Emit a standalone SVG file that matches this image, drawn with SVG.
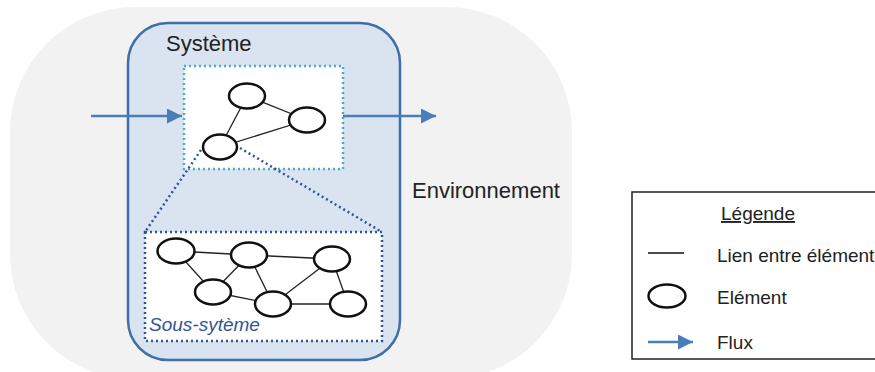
<svg xmlns="http://www.w3.org/2000/svg" width="875" height="372" viewBox="0 0 875 372">
<style>
text{font-family:"Liberation Sans",Arial,sans-serif;fill:#222}
.el{fill:#fff;stroke:#111;stroke-width:2.5}
.lk{stroke:#222;stroke-width:1.3}
.flux{stroke:#4a7ebb;stroke-width:2.5;fill:none}
.zoom{stroke:#2f5597;stroke-width:2.5;stroke-dasharray:2 3;fill:none}
.lg{font-size:19px}
</style>
<defs>
<marker id="ah" viewBox="0 0 10 10" refX="10" refY="5" markerWidth="6" markerHeight="6" markerUnits="strokeWidth" orient="auto">
<path d="M0,0 L10,5 L0,10 z" fill="#4a7ebb"/>
</marker>
</defs>
<g id="environnement">
<rect x="10" y="7" width="562" height="372" rx="125" ry="125" fill="#f2f2f2"/>
<text x="412" y="198" font-size="22">Environnement</text>
</g>
<g id="systeme">
<rect x="128" y="23" width="272" height="337" rx="40" ry="40" fill="#dae3f0" stroke="#3f6ea8" stroke-width="2.5"/>
<text x="166" y="51" font-size="22">Système</text>
</g>
<g id="sous-systeme-haut">
<rect x="184" y="66" width="159" height="103" fill="#fff" stroke="#4bacc6" stroke-width="2.5" stroke-dasharray="2 3"/>
</g>
<g id="connecteurs">
<path class="flux" d="M91,116 H182" marker-end="url(#ah)"/>
<path class="flux" d="M343,116 H436" marker-end="url(#ah)"/>
<path class="zoom" d="M201,150 L145,232"/>
<path class="zoom" d="M240,148 L382,232"/>
<line class="lk" x1="247" y1="96" x2="307" y2="120"/>
<line class="lk" x1="247" y1="96" x2="220" y2="147"/>
<line class="lk" x1="220" y1="147" x2="307" y2="120"/>
</g>
<g id="elements-haut">
<ellipse class="el" cx="247" cy="96" rx="18" ry="12.5"/>
<ellipse class="el" cx="307" cy="120" rx="18" ry="12.5"/>
<ellipse class="el" cx="220" cy="147" rx="17" ry="12.5"/>
</g>
<g id="sous-systeme">
<rect x="145" y="232" width="237" height="109" fill="#fff" stroke="#2f5597" stroke-width="2.5" stroke-dasharray="2 3"/>
<g class="liens">
<line class="lk" x1="176" y1="251" x2="249" y2="255"/>
<line class="lk" x1="176" y1="251" x2="213" y2="292"/>
<line class="lk" x1="249" y1="255" x2="213" y2="292"/>
<line class="lk" x1="249" y1="255" x2="273" y2="304"/>
<line class="lk" x1="249" y1="255" x2="332" y2="259"/>
<line class="lk" x1="213" y1="292" x2="273" y2="304"/>
<line class="lk" x1="332" y1="259" x2="273" y2="304"/>
<line class="lk" x1="332" y1="259" x2="348" y2="304"/>
<line class="lk" x1="273" y1="304" x2="348" y2="304"/>
</g>
<ellipse class="el" cx="176" cy="251" rx="18.5" ry="12.5"/>
<ellipse class="el" cx="249" cy="255" rx="18" ry="12.5"/>
<ellipse class="el" cx="332" cy="259" rx="18" ry="12.5"/>
<ellipse class="el" cx="213" cy="292" rx="18" ry="12.5"/>
<ellipse class="el" cx="273" cy="304" rx="18" ry="12.5"/>
<ellipse class="el" cx="348" cy="304" rx="18" ry="12.5"/>
<text x="149" y="331" font-size="19" font-style="italic" style="fill:#2f5597">Sous-sytème</text>
</g>
<g id="legende">
<rect x="632" y="192" width="245" height="167" fill="#fff" stroke="#222" stroke-width="1.5"/>
<text class="lg" x="721" y="220" text-decoration="underline">Légende</text>
<line x1="648" y1="253" x2="684" y2="253" stroke="#111" stroke-width="1.5"/>
<text class="lg" x="717" y="262">Lien entre élément</text>
<ellipse cx="667" cy="296" rx="18.5" ry="11.5" fill="#fff" stroke="#111" stroke-width="2.5"/>
<text class="lg" x="717" y="304">Elément</text>
<path class="flux" d="M648,342 H693" marker-end="url(#ah)"/>
<text class="lg" x="717" y="349">Flux</text>
</g>
</svg>
